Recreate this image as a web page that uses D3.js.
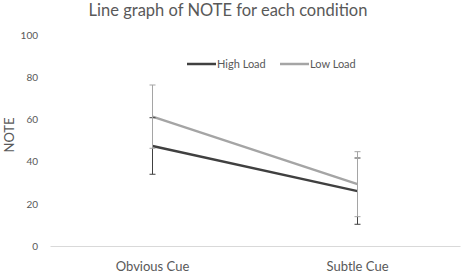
<!DOCTYPE html>
<html>
<head>
<meta charset="utf-8">
<script src="https://cdn.jsdelivr.net/npm/d3@7"></script>
<style>
  body { margin: 0; background: #fff; }
  text { font-family: Lato, "Open Sans", sans-serif; fill: #595959; }
</style>
</head>
<body>
<svg id="chart"></svg>
<script>
const width = 461;
const height = 273;

const conditions = ["Obvious Cue", "Subtle Cue"];
const seriesNames = ["High Load", "Low Load"];
const highLoad = [47.4, 26.0];
const highLoadErr = [13.4, 15.7];
const lowLoad = [61.3, 29.3];
const lowLoadErr = [15.0, 15.4];
const yTicks = [0, 20, 40, 60, 80, 100];

const colors = { "High Load": "#404040", "Low Load": "#a5a5a5" };

const series = [
  { name: "High Load", values: highLoad, err: highLoadErr },
  { name: "Low Load", values: lowLoad, err: lowLoadErr }
];

const svg = d3.select("#chart").attr("width", width).attr("height", height);

const xScale = d3.scaleBand().domain(conditions).range([50, 460]);
const yScale = d3.scaleLinear().domain([0, 100]).range([246, 35]);
const cx = c => xScale(c) + xScale.bandwidth() / 2;

// title
svg.append("text")
  .attr("x", 228)
  .attr("y", 16)
  .attr("text-anchor", "middle")
  .style("font-size", "16.5px")
  .text("Line graph of NOTE for each condition");

// y axis labels only
const yAxis = d3.axisLeft(yScale).tickValues(yTicks).tickSize(0).tickPadding(0);
const gy = svg.append("g").attr("transform", "translate(38,0)").call(yAxis);
gy.select(".domain").remove();
gy.selectAll("text").style("font-size", "10px").attr("fill", "#595959").style("font-family", "Lato, sans-serif");

// x axis
const xAxis = d3.axisBottom(xScale).tickSize(0).tickPadding(16);
const gx = svg.append("g").attr("transform", `translate(0,${yScale(0)})`).call(xAxis);
gx.select(".domain").attr("stroke", "#d9d9d9");
gx.selectAll("text").style("font-size", "13px").attr("fill", "#595959").style("font-family", "Lato, sans-serif");

// y title
svg.append("text")
  .attr("transform", `translate(14,135) rotate(-90)`)
  .attr("text-anchor", "middle")
  .style("font-size", "13px")
  .text("NOTE");

const line = d3.line().x((d, i) => cx(conditions[i])).y(d => yScale(d));

series.forEach(s => {
  svg.append("path")
    .datum(s.values)
    .attr("fill", "none")
    .attr("stroke", colors[s.name])
    .attr("stroke-width", 2.5)
    .attr("d", line);
});

series.forEach(s => {
  const g = svg.append("g").attr("stroke", colors[s.name]).attr("stroke-width", 1);
  s.values.forEach((v, i) => {
    const x = cx(conditions[i]);
    const y1 = yScale(v + s.err[i]);
    const y2 = yScale(v - s.err[i]);
    g.append("line").attr("x1", x).attr("x2", x).attr("y1", y1).attr("y2", y2);
    g.append("line").attr("x1", x - 3).attr("x2", x + 3).attr("y1", y1).attr("y2", y1);
    g.append("line").attr("x1", x - 3).attr("x2", x + 3).attr("y1", y2).attr("y2", y2);
  });
});

// legend
const legend = svg.append("g").attr("id", "legend");
const legendX = [187, 280];
seriesNames.forEach((name, i) => {
  legend.append("line")
    .attr("x1", legendX[i]).attr("x2", legendX[i] + 29)
    .attr("y1", 64).attr("y2", 64)
    .attr("stroke", colors[name]).attr("stroke-width", 2.5);
  legend.append("text")
    .attr("x", legendX[i] + 30)
    .attr("y", 68)
    .style("font-size", "11px")
    .text(name);
});
</script>
</body>
</html>
